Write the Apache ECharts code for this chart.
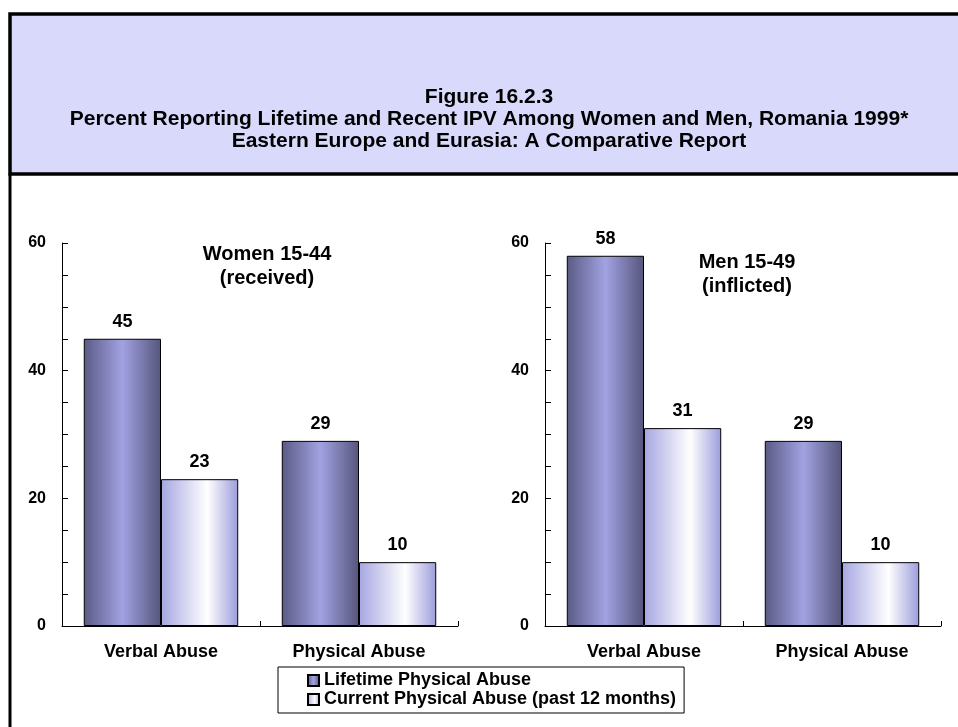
<!DOCTYPE html>
<html>
<head>
<meta charset="utf-8">
<script src="https://cdn.jsdelivr.net/npm/echarts@6/dist/echarts.min.js"></script>
<style>
  html, body { margin: 0; padding: 0; background: #fff; }
  #chart { width: 958px; height: 727px; }
</style>
</head>
<body>
<div id="chart"></div>
<script>
// Categories and values
var categories = ['Verbal Abuse', 'Physical Abuse'];
var womenLifetime = [45, 29];
var womenCurrent = [23, 10];
var menLifetime = [58, 29];
var menCurrent = [31, 10];
var seriesNames = ['Lifetime Physical Abuse', 'Current Physical Abuse (past 12 months)'];
var panelTitles = ['Women 15-44\n(received)', 'Men 15-49\n(inflicted)'];
var titleLines = [
  'Figure 16.2.3',
  'Percent Reporting Lifetime and Recent IPV Among Women and Men, Romania 1999*',
  'Eastern Europe and Eurasia: A Comparative Report'
];

var FONT = '"Liberation Sans", Arial, sans-serif';
var chart = echarts.init(document.getElementById('chart'), null, { renderer: 'canvas' });

var lifetimeFill = new echarts.graphic.LinearGradient(0, 0, 1, 0, [
  { offset: 0, color: '#5a5a86' },
  { offset: 0.5, color: '#a2a2e2' },
  { offset: 1, color: '#55557c' }
]);
var currentFill = new echarts.graphic.LinearGradient(0, 0, 1, 0, [
  { offset: 0, color: '#a6a6e2' },
  { offset: 0.6, color: '#ffffff' },
  { offset: 1, color: '#9c9cdc' }
]);

function yAxis(idx) {
  return {
    type: 'value', gridIndex: idx, min: 0, max: 60, interval: 20,
    axisLine: { show: true, lineStyle: { color: '#000', width: 1 } },
    axisTick: { show: true, inside: true, length: 6, lineStyle: { color: '#000' } },
    minorTick: { show: true, splitNumber: 4, length: 6, lineStyle: { color: '#000' } },
    splitLine: { show: false },
    axisLabel: { color: '#000', fontFamily: FONT, fontWeight: 'bold', fontSize: 16, margin: 16 }
  };
}
function xAxis(idx) {
  return {
    type: 'category', gridIndex: idx, data: categories,
    axisLine: { show: true, lineStyle: { color: '#000', width: 1 } },
    axisTick: { show: true, inside: true, length: 5, lineStyle: { color: '#000' } },
    axisLabel: { color: '#000', fontFamily: FONT, fontWeight: 'bold', fontSize: 18, margin: 17 }
  };
}
var labelOpt = { show: true, position: 'top', distance: 8, color: '#000',
  fontFamily: FONT, fontWeight: 'bold', fontSize: 18 };
function bar(name, data, idx, fill) {
  return {
    type: 'bar', name: name, data: data, xAxisIndex: idx, yAxisIndex: idx,
    barGap: '0%', barCategoryGap: '22%',
    itemStyle: { color: fill, borderColor: '#000', borderWidth: 1 },
    label: labelOpt
  };
}
var panelTitleStyle = { fontFamily: FONT, fontWeight: 'bold', fontSize: 20, lineHeight: 24, color: '#000', align: 'center' };

var option = {
  animation: false,
  backgroundColor: '#fff',
  graphic: [
    { type: 'rect', z: -1, shape: { x: 10, y: 14, width: 960, height: 160 },
      style: { fill: '#d9d9fc', stroke: '#000', lineWidth: 3.5 } },
    { type: 'line', shape: { x1: 10, y1: 174, x2: 10, y2: 727 },
      style: { stroke: '#000', lineWidth: 3 } }
  ],
  title: [
    { text: titleLines.join('\n'), left: 484, top: 81, textAlign: 'center',
      textStyle: { fontFamily: FONT, fontWeight: 'bold', fontSize: 21, lineHeight: 22, color: '#000', align: 'center' } },
    { text: panelTitles[0], left: 262, top: 237, textAlign: 'center', textStyle: panelTitleStyle },
    { text: panelTitles[1], left: 742, top: 245, textAlign: 'center', textStyle: panelTitleStyle }
  ],
  legend: {
    orient: 'vertical', left: 278, top: 667,
    data: seriesNames,
    icon: 'rect',
    itemWidth: 11, itemHeight: 11, itemGap: 0,
    padding: [4, 8, 4, 29],
    borderColor: '#000', borderWidth: 1, backgroundColor: '#fff',
    textStyle: { fontFamily: FONT, fontWeight: 'bold', fontSize: 18, lineHeight: 19, color: '#000' },
    selectedMode: false
  },
  grid: [
    { left: 62, top: 243, width: 396, height: 383 },
    { left: 545, top: 243, width: 396, height: 383 }
  ],
  xAxis: [xAxis(0), xAxis(1)],
  yAxis: [yAxis(0), yAxis(1)],
  series: [
    bar(seriesNames[0], womenLifetime, 0, lifetimeFill),
    bar(seriesNames[1], womenCurrent, 0, currentFill),
    bar(seriesNames[0], menLifetime, 1, lifetimeFill),
    bar(seriesNames[1], menCurrent, 1, currentFill)
  ]
};
chart.setOption(option);
</script>
</body>
</html>
